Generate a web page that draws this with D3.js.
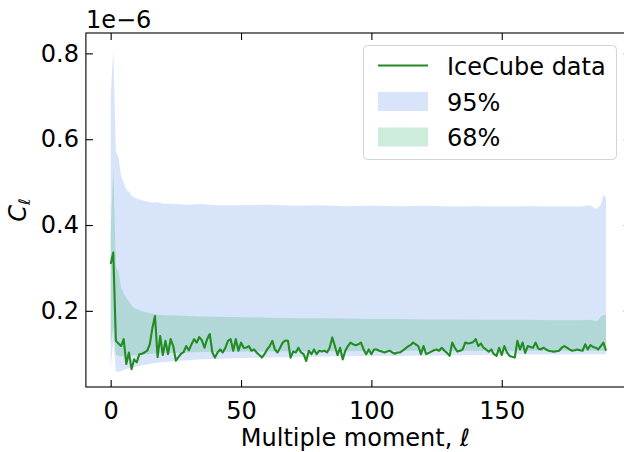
<!DOCTYPE html>
<html>
<head>
<meta charset="utf-8">
<script src="https://cdn.jsdelivr.net/npm/d3@7"></script>
<style>
  html, body { margin: 0; padding: 0; background: #fff; }
  svg { display: block; }
  svg text { font-family: "DejaVu Sans", sans-serif; }
</style>
</head>
<body>
<svg id="chart" width="624" height="452"></svg>
<script>
// ---- Data (values in units of 1e-6) ----
const multipoles = d3.range(0, 191);
const icecube = [
  0.309, 0.336, 0.130, 0.124, 0.118, 0.134, 0.076, 0.103, 0.064, 0.087,
  0.080, 0.099, 0.100, 0.103, 0.107, 0.122, 0.160, 0.188, 0.092, 0.141,
  0.097, 0.130, 0.099, 0.134, 0.118, 0.084, 0.092, 0.100, 0.104, 0.118,
  0.108, 0.122, 0.134, 0.126, 0.139, 0.131, 0.114, 0.134, 0.146, 0.103,
  0.091, 0.103, 0.110, 0.103, 0.114, 0.130, 0.134, 0.107, 0.134, 0.107,
  0.126, 0.114, 0.114, 0.118, 0.107, 0.110, 0.103, 0.097, 0.091, 0.099,
  0.110, 0.118, 0.130, 0.110, 0.103, 0.114, 0.126, 0.131, 0.130, 0.091,
  0.105, 0.103, 0.114, 0.103, 0.099, 0.083, 0.107, 0.099, 0.110, 0.099,
  0.107, 0.105, 0.107, 0.103, 0.114, 0.138, 0.118, 0.097, 0.114, 0.087,
  0.107, 0.118, 0.126, 0.122, 0.120, 0.122, 0.126, 0.110, 0.099, 0.110,
  0.099, 0.110, 0.110, 0.107, 0.105, 0.103, 0.105, 0.107, 0.103, 0.100,
  0.103, 0.103, 0.107, 0.112, 0.117, 0.120, 0.126, 0.122, 0.118, 0.099,
  0.118, 0.099, 0.102, 0.105, 0.108, 0.110, 0.107, 0.114, 0.107, 0.102,
  0.095, 0.126, 0.114, 0.105, 0.107, 0.110, 0.126, 0.124, 0.125, 0.127,
  0.134, 0.118, 0.124, 0.114, 0.110, 0.105, 0.110, 0.099, 0.095, 0.114,
  0.097, 0.118, 0.103, 0.095, 0.093, 0.091, 0.130, 0.110, 0.126, 0.102,
  0.118, 0.116, 0.114, 0.126, 0.112, 0.110, 0.114, 0.110, 0.107, 0.106,
  0.105, 0.106, 0.107, 0.114, 0.118, 0.114, 0.110, 0.107, 0.108, 0.110,
  0.108, 0.107, 0.122, 0.110, 0.120, 0.116, 0.114, 0.110, 0.118, 0.126,
  0.107
];
const bandL   = [0, 1, 2, 3, 4, 5, 6, 7, 8, 9, 10, 12, 14, 16, 18, 20, 25, 30, 35, 40, 50, 60, 70, 80, 90, 100, 110, 120, 130, 140, 150, 160, 170, 180, 184, 186, 187, 188, 189, 190];
const upper95 = [0.698, 0.810, 0.572, 0.556, 0.515, 0.498, 0.482, 0.478, 0.468, 0.465, 0.462, 0.458, 0.455, 0.452, 0.453, 0.450, 0.449, 0.447, 0.449, 0.446, 0.446, 0.447, 0.445, 0.446, 0.444, 0.445, 0.444, 0.445, 0.443, 0.444, 0.443, 0.444, 0.443, 0.443, 0.446, 0.438, 0.440, 0.448, 0.470, 0.465];
const lower95 = [0.065, 0.130, 0.058, 0.058, 0.060, 0.062, 0.064, 0.066, 0.068, 0.069, 0.070, 0.073, 0.075, 0.077, 0.079, 0.080, 0.083, 0.085, 0.087, 0.088, 0.090, 0.091, 0.092, 0.093, 0.094, 0.095, 0.095, 0.096, 0.096, 0.097, 0.098, 0.098, 0.098, 0.099, 0.099, 0.099, 0.099, 0.099, 0.099, 0.099];
const upper68 = [0.380, 0.532, 0.305, 0.290, 0.255, 0.240, 0.230, 0.222, 0.212, 0.207, 0.204, 0.199, 0.196, 0.193, 0.191, 0.190, 0.189, 0.188, 0.187, 0.186, 0.185, 0.184, 0.183, 0.183, 0.182, 0.181, 0.181, 0.180, 0.180, 0.179, 0.179, 0.179, 0.178, 0.178, 0.179, 0.176, 0.178, 0.186, 0.190, 0.190];
const lower68 = [0.123, 0.160, 0.098, 0.095, 0.094, 0.094, 0.095, 0.095, 0.096, 0.096, 0.097, 0.098, 0.099, 0.100, 0.101, 0.101, 0.102, 0.103, 0.104, 0.104, 0.105, 0.105, 0.106, 0.106, 0.106, 0.107, 0.107, 0.107, 0.107, 0.107, 0.107, 0.107, 0.107, 0.107, 0.107, 0.107, 0.107, 0.107, 0.107, 0.107];
const xTicks = [0, 50, 100, 150];
const yTicks = [0.2, 0.4, 0.6, 0.8];
const legendLabels = ["IceCube data", "95%", "68%"];

// ---- Layout ----
const svg = d3.select("#chart");
const L = 85.9, R = 630.8, T = 33, B = 387;
const x = d3.scaleLinear().domain([-9.5, 199.5]).range([L, R]);
const y = d3.scaleLinear().domain([0.0225, 0.8475]).range([B, T]);

const blue = "rgba(100,149,237,0.25)";
const green = "rgba(60,179,113,0.25)";
const lineColor = "#228b22";
const FS = 24;
const FONT = "DejaVu Sans";

const band = bandL.map((l, i) => ({ l, u95: upper95[i], l95: lower95[i], u68: upper68[i], l68: lower68[i] }));

svg.append("path").datum(band)
  .attr("fill", blue)
  .attr("d", d3.area().x(d => x(d.l)).y0(d => y(d.l95)).y1(d => y(d.u95)));
svg.append("path").datum(band)
  .attr("fill", green)
  .attr("d", d3.area().x(d => x(d.l)).y0(d => y(d.l68)).y1(d => y(d.u68)));

svg.append("path").datum(multipoles.map((l, i) => ({ l, v: icecube[i] })))
  .attr("fill", "none")
  .attr("stroke", lineColor)
  .attr("stroke-width", 2.1)
  .attr("stroke-linejoin", "round")
  .attr("d", d3.line().x(d => x(d.l)).y(d => y(d.v)));

// ---- Axes ----
function styleAxis(g) {
  g.select(".domain").remove();
  g.selectAll(".tick line").attr("stroke", "#000").attr("stroke-width", 1.1);
  g.selectAll(".tick text").attr("fill", "#000").style("font-size", FS + "px").style("font-family", FONT);
}
svg.append("g").attr("transform", `translate(0,${B})`)
  .call(d3.axisBottom(x).tickValues(xTicks).tickFormat(d3.format("d")).tickSizeInner(-7).tickSizeOuter(0).tickPadding(15))
  .call(styleAxis);
svg.append("g").attr("transform", `translate(0,${T})`)
  .call(d3.axisTop(x).tickValues(xTicks).tickFormat("").tickSizeInner(-7).tickSizeOuter(0))
  .call(styleAxis);
svg.append("g").attr("transform", `translate(${L},0)`)
  .call(d3.axisLeft(y).tickValues(yTicks).tickFormat(d3.format(".1f")).tickSizeInner(-7).tickSizeOuter(0).tickPadding(7))
  .call(styleAxis);
svg.append("g").attr("transform", `translate(${R},0)`)
  .call(d3.axisRight(y).tickValues(yTicks).tickFormat("").tickSizeInner(-7).tickSizeOuter(0))
  .call(styleAxis);

// frame
svg.append("rect").attr("x", L).attr("y", T).attr("width", R - L).attr("height", B - T)
  .attr("fill", "none").attr("stroke", "#000").attr("stroke-width", 1.1);

// offset text
svg.append("text").attr("x", L).attr("y", 28).style("font-family", FONT).style("font-size", FS + "px").text("1e\u22126");

// axis labels
svg.append("text").attr("x", (L + R) / 2 - 3).attr("y", 446).attr("text-anchor", "middle")
  .style("font-family", FONT).style("font-size", FS + "px").text("Multiple moment, \u2113");
const yl = svg.append("text").attr("transform", `translate(26,${(T + B) / 2}) rotate(-90)`)
  .attr("text-anchor", "middle").style("font-family", FONT).style("font-size", FS + "px");
yl.append("tspan").style("font-style", "italic").text("C");
yl.append("tspan").attr("dy", 4).style("font-size", "16px").style("font-style", "italic").text("\u2113");

// ---- Legend ----
const lg = svg.append("g");
lg.append("rect").attr("x", 363.5).attr("y", 45.5).attr("width", 253).attr("height", 114).attr("rx", 4)
  .attr("fill", "rgba(255,255,255,0.8)").attr("stroke", "#d3d3d3").attr("stroke-width", 1);
lg.append("line").attr("x1", 378).attr("x2", 428).attr("y1", 65.5).attr("y2", 65.5)
  .attr("stroke", lineColor).attr("stroke-width", 2.1);
lg.append("rect").attr("x", 378).attr("y", 92).attr("width", 50).attr("height", 19).attr("fill", blue);
lg.append("rect").attr("x", 378).attr("y", 127.5).attr("width", 50).attr("height", 19).attr("fill", green);
[75, 110.5, 146].forEach((yy, i) => {
  lg.append("text").attr("x", 447).attr("y", yy).style("font-family", FONT).style("font-size", FS + "px").text(legendLabels[i]);
});
</script>
</body>
</html>
